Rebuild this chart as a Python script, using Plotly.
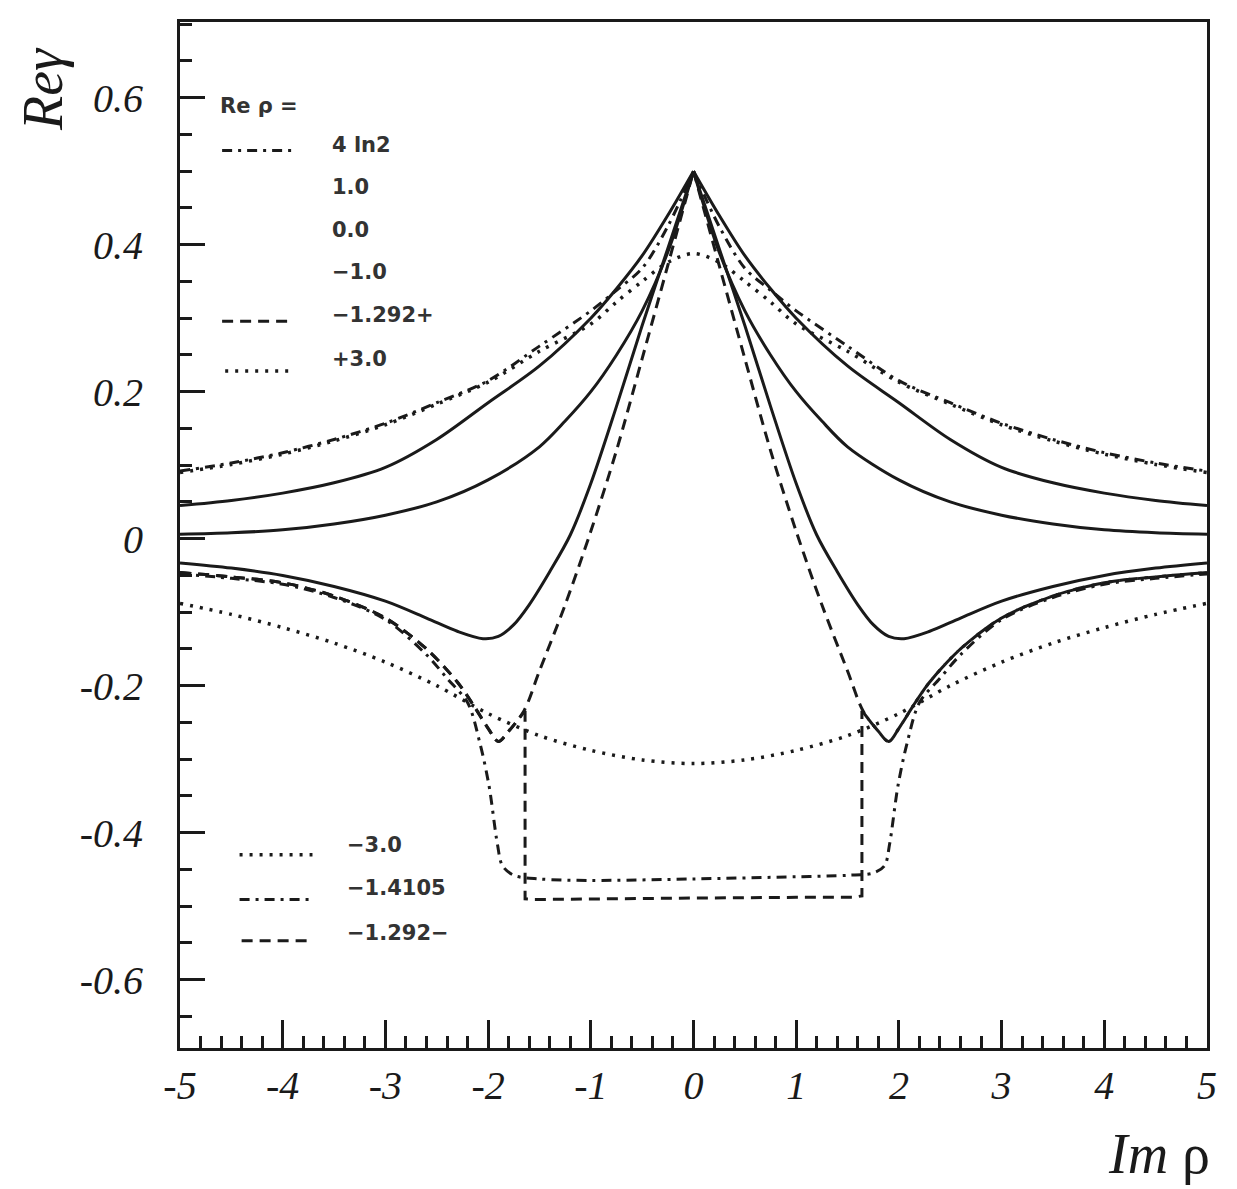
import plotly.graph_objects as go

# ---------------- data ----------------
x_4ln2 = [-5, -4.5, -4, -3.5, -3, -2.5, -2, -1.5, -1, -0.75, -0.5, -0.25, 0,
          0.25, 0.5, 0.75, 1, 1.5, 2, 2.5, 3, 3.5, 4, 4.5, 5]
y_4ln2 = [0.092, 0.103, 0.117, 0.135, 0.157, 0.185, 0.215, 0.262, 0.310, 0.338, 0.368, 0.425, 0.500,
          0.425, 0.368, 0.338, 0.310, 0.262, 0.215, 0.185, 0.157, 0.135, 0.117, 0.103, 0.092]

x_p10 = [-5, -4.5, -4, -3.5, -3, -2.5, -2, -1.5, -1, -0.75, -0.5, -0.25, 0,
         0.25, 0.5, 0.75, 1, 1.5, 2, 2.5, 3, 3.5, 4, 4.5, 5]
y_p10 = [0.045, 0.052, 0.062, 0.076, 0.097, 0.135, 0.185, 0.235, 0.300, 0.340, 0.385, 0.440, 0.500,
         0.440, 0.385, 0.340, 0.300, 0.235, 0.185, 0.135, 0.097, 0.076, 0.062, 0.052, 0.045]

x_00 = [-5, -4.5, -4, -3.5, -3, -2.5, -2, -1.5, -1.25, -1, -0.75, -0.5, -0.25, 0,
        0.25, 0.5, 0.75, 1, 1.25, 1.5, 2, 2.5, 3, 3.5, 4, 4.5, 5]
y_00 = [0.006, 0.008, 0.012, 0.020, 0.032, 0.050, 0.080, 0.125, 0.160, 0.200, 0.250, 0.310, 0.390, 0.500,
        0.390, 0.310, 0.250, 0.200, 0.160, 0.125, 0.080, 0.050, 0.032, 0.020, 0.012, 0.008, 0.006]

x_m10 = [-5, -4.5, -4, -3.5, -3, -2.6, -2.3, -2.05, -1.9, -1.75, -1.6, -1.4, -1.2, -1.0, -0.75, -0.5, -0.25, 0,
         0.25, 0.5, 0.75, 1.0, 1.2, 1.4, 1.6, 1.75, 1.9, 2.05, 2.3, 2.6, 3, 3.5, 4, 4.5, 5]
y_m10 = [-0.033, -0.040, -0.050, -0.065, -0.085, -0.108, -0.126, -0.136, -0.133, -0.117, -0.090, -0.045, 0.005, 0.075, 0.180, 0.290, 0.395, 0.500,
         0.395, 0.290, 0.180, 0.075, 0.005, -0.045, -0.090, -0.117, -0.133, -0.136, -0.126, -0.108, -0.085, -0.065, -0.050, -0.040, -0.033]

x_m1292p = [-5, -4.5, -4, -3.5, -3, -2.6, -2.3, -2.15, -2.0, -1.9, -1.8, -1.65, -1.5, -1.25, -1.0, -0.75, -0.5, -0.25, 0,
            0.25, 0.5, 0.75, 1.0, 1.25, 1.5, 1.65, 1.8, 1.9, 2.0, 2.15, 2.3, 2.6, 3, 3.5, 4, 4.5, 5]
y_m1292p = [-0.046, -0.052, -0.060, -0.078, -0.108, -0.150, -0.195, -0.225, -0.258, -0.276, -0.262, -0.234, -0.180, -0.090, 0.010, 0.120, 0.245, 0.372, 0.500,
            0.372, 0.245, 0.120, 0.010, -0.090, -0.180, -0.234, -0.262, -0.276, -0.258, -0.225, -0.195, -0.150, -0.108, -0.078, -0.060, -0.052, -0.046]

x_m1292m = [-5, -4.5, -4, -3.5, -3, -2.6, -2.3, -2.15, -2.0, -1.9, -1.8, -1.64, -1.64, -1.55, -1.0, 0, 1.0, 1.55, 1.64, 1.64,
            1.8, 1.9, 2.0, 2.15, 2.3, 2.6, 3, 3.5, 4, 4.5, 5]
y_m1292m = [-0.046, -0.052, -0.060, -0.078, -0.108, -0.150, -0.195, -0.225, -0.258, -0.276, -0.262, -0.234, -0.490, -0.491, -0.490, -0.489, -0.488, -0.488, -0.486, -0.234,
            -0.262, -0.276, -0.258, -0.225, -0.195, -0.150, -0.108, -0.078, -0.060, -0.052, -0.046]

x_m14105 = [-5, -4.5, -4, -3.5, -3, -2.6, -2.4, -2.2, -2.08, -1.99, -1.91, -1.86, -1.75, -1.5, -1.0, 0, 1.0, 1.5, 1.75,
            1.86, 1.91, 1.99, 2.08, 2.2, 2.4, 2.6, 3, 3.5, 4, 4.5, 5]
y_m14105 = [-0.048, -0.054, -0.062, -0.080, -0.110, -0.158, -0.190, -0.223, -0.278, -0.337, -0.415, -0.445, -0.458, -0.463, -0.465, -0.463, -0.460, -0.458, -0.455,
            -0.445, -0.415, -0.337, -0.278, -0.223, -0.190, -0.158, -0.110, -0.080, -0.062, -0.054, -0.048]

x_p30 = [-5, -4.5, -4, -3.5, -3, -2.5, -2, -1.5, -1, -0.75, -0.5, -0.25, 0,
         0.25, 0.5, 0.75, 1, 1.5, 2, 2.5, 3, 3.5, 4, 4.5, 5]
y_p30 = [0.090, 0.101, 0.115, 0.133, 0.155, 0.183, 0.213, 0.255, 0.292, 0.322, 0.350, 0.376, 0.388,
         0.376, 0.350, 0.322, 0.292, 0.255, 0.213, 0.183, 0.155, 0.133, 0.115, 0.101, 0.090]

x_m30 = [-5, -4.5, -4, -3.5, -3, -2.5, -2, -1.5, -1, -0.5, 0, 0.5, 1, 1.5, 2, 2.5, 3, 3.5, 4, 4.5, 5]
y_m30 = [-0.088, -0.103, -0.121, -0.142, -0.168, -0.200, -0.238, -0.268, -0.288, -0.301, -0.306,
         -0.301, -0.288, -0.268, -0.238, -0.200, -0.168, -0.142, -0.121, -0.103, -0.088]

x_ticks = [-5, -4, -3, -2, -1, 0, 1, 2, 3, 4, 5]
x_ticklabels = ["-5", "-4", "-3", "-2", "-1", "0", "1", "2", "3", "4", "5"]
y_ticks = [-0.6, -0.4, -0.2, 0, 0.2, 0.4, 0.6]
y_ticklabels = ["-0.6", "-0.4", "-0.2", "0", "0.2", "0.4", "0.6"]

top_legend_title = "Re \u03c1 ="
top_legend_labels = ["4 ln2", "1.0", "0.0", "\u22121.0", "\u22121.292+", "+3.0"]
bottom_legend_labels = ["\u22123.0", "\u22121.4105", "\u22121.292\u2212"]

# ---------------- styling ----------------
INK = "#1a1a1a"
SOLID = "solid"
DASH = "11px,7px"
DOT = "3px,7px"
DASHDOT = "10px,6px,3px,6px"
LW = 3

fig = go.Figure()


def draw(xs, ys, dash, pieces):
    """pieces: list of (start_index, end_index_inclusive, shape)"""
    w = 3.5 if dash == DOT else LW
    for i0, i1, shp in pieces:
        fig.add_trace(go.Scatter(
            x=xs[i0:i1 + 1], y=ys[i0:i1 + 1], mode="lines", showlegend=False,
            hoverinfo="skip",
            line=dict(color=INK, width=w, dash=dash, shape=shp,
                      smoothing=0.9 if shp == "spline" else None)))


def cusp_split(xs):
    k = xs.index(0)
    return [(0, k, "spline"), (k, len(xs) - 1, "spline")]


draw(x_4ln2, y_4ln2, DASHDOT, cusp_split(x_4ln2))
draw(x_p30, y_p30, DOT, [(0, len(x_p30) - 1, "spline")])
draw(x_p10, y_p10, SOLID, cusp_split(x_p10))
draw(x_00, y_00, SOLID, cusp_split(x_00))
draw(x_m10, y_m10, SOLID, cusp_split(x_m10))
draw(x_m1292p, y_m1292p, DASH, cusp_split(x_m1292p))
k1 = 11
k2 = len(x_m1292m) - 1 - 11
draw(x_m1292m, y_m1292m, DASH, [(0, k1, "spline"), (k1, k2, "linear"), (k2, len(x_m1292m) - 1, "spline")])
draw(x_m14105, y_m14105, DASHDOT, [(0, len(x_m14105) - 1, "spline")])
draw(x_m30, y_m30, DOT, [(0, len(x_m30) - 1, "spline")])

tickfont = dict(family="Liberation Serif", size=40, color=INK, style="italic")

fig.update_xaxes(range=[-5, 5], showline=True, linecolor=INK, linewidth=3, mirror=True,
                 ticks="inside", ticklen=28, tickwidth=3, tickcolor=INK,
                 tickvals=x_ticks, ticktext=x_ticklabels, tickfont=tickfont,
                 minor=dict(dtick=0.2, ticks="inside", ticklen=12, tickwidth=3, tickcolor=INK),
                 showgrid=False, zeroline=False, ticklabelstandoff=0)
fig.update_yaxes(range=[-0.693, 0.703], showline=True, linecolor=INK, linewidth=3, mirror=True,
                 ticks="inside", ticklen=25, tickwidth=3, tickcolor=INK,
                 tickvals=y_ticks, ticktext=y_ticklabels, tickfont=tickfont,
                 minor=dict(dtick=0.05, ticks="inside", ticklen=12, tickwidth=3, tickcolor=INK),
                 showgrid=False, zeroline=False, ticklabelstandoff=26)

# ---------------- legend (text + sample lines) ----------------
legfont = dict(family="DejaVu Sans", size=21, color="#333333", weight="bold")
ann = []
ann.append(dict(x=-4.63, y=0.589, xref="x", yref="y", text=top_legend_title, showarrow=False,
                xanchor="left", yanchor="middle", font=legfont))
top_y = [0.535, 0.478, 0.420, 0.363, 0.304, 0.244]
for lab, yy in zip(top_legend_labels, top_y):
    ann.append(dict(x=-3.54, y=yy, xref="x", yref="y", text=lab, showarrow=False,
                    xanchor="left", yanchor="middle", font=legfont))
bot_y = [-0.417, -0.475, -0.536]
for lab, yy in zip(bottom_legend_labels, bot_y):
    ann.append(dict(x=-3.39, y=yy, xref="x", yref="y", text=lab, showarrow=False,
                    xanchor="left", yanchor="middle", font=legfont))

# axis titles
ann.append(dict(x=-0.134, y=0.935, xref="paper", yref="paper", text="<i>Re\u03b3</i>",
                showarrow=False, textangle=-90, xanchor="center", yanchor="middle",
                font=dict(family="Liberation Serif", size=56, color=INK)))
ann.append(dict(x=0.953, y=-0.103, xref="paper", yref="paper", text="<i>Im</i> \u03c1",
                showarrow=False, xanchor="center", yanchor="middle",
                font=dict(family="Liberation Serif", size=56, color=INK)))

samples = [
    (-4.59, -3.91, 0.528, DASHDOT),
    (-4.59, -3.91, 0.296, DASH),
    (-4.56, -3.88, 0.228, DOT),
    (-4.42, -3.71, -0.430, DOT),
    (-4.42, -3.71, -0.491, DASHDOT),
    (-4.40, -3.74, -0.547, DASH),
]
shapes = []
for x0, x1, yy, dash in samples:
    shapes.append(dict(type="line", xref="x", yref="y", x0=x0, x1=x1, y0=yy, y1=yy,
                       line=dict(color=INK, width=3.5 if dash == DOT else LW, dash=dash)))

# page has an 8px body margin: size the figure so it fits in the window
fig.update_layout(width=1229, height=1181, paper_bgcolor="white", plot_bgcolor="white",
                  margin=dict(l=172, r=30, t=14, b=141), annotations=ann, shapes=shapes)

fig.write_html("out.html")
